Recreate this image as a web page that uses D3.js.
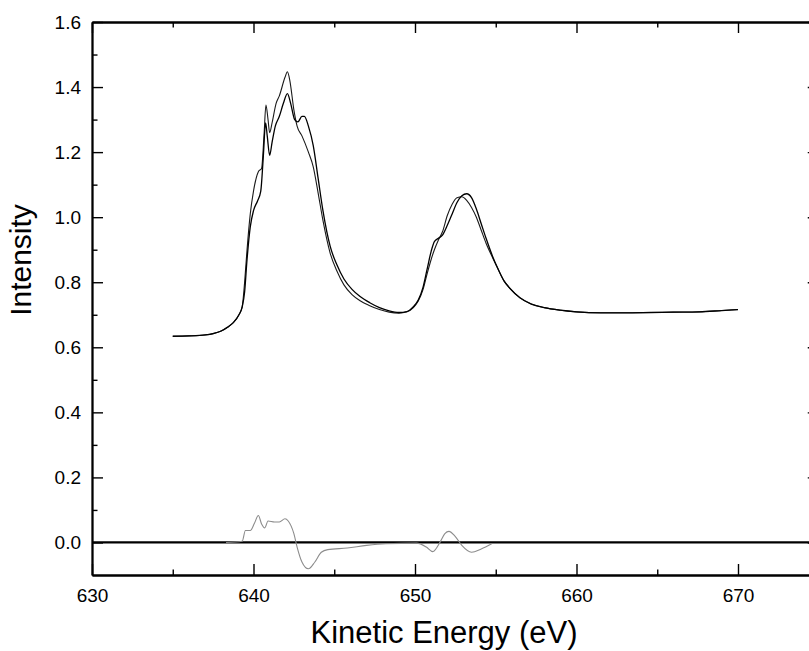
<!DOCTYPE html>
<html>
<head>
<meta charset="utf-8">
<script src="https://cdn.jsdelivr.net/npm/d3@7"></script>
<style>
  html, body { margin: 0; padding: 0; background: #fff; }
  svg { display: block; }
</style>
</head>
<body>
<div id="chart"></div>
<script>
// ── Data ──────────────────────────────────────────────────────
// Spectrum A: the one with the taller main peak (~1.45)
const energyA = [635, 636, 637, 637.5, 638, 638.4, 638.75, 639.1, 639.3, 639.45,
  639.6, 639.8, 640.0, 640.3, 640.5, 640.65, 640.77, 640.9, 641.0, 641.15,
  641.4, 641.6, 641.95, 642.1, 642.25, 642.5, 642.7, 643.0, 643.4, 643.7,
  644.0, 644.3, 644.75, 645.15, 645.6, 646.1, 646.6, 647.2, 647.8, 648.4,
  649.0, 649.5, 649.9, 650.2, 650.5, 650.75, 651.0, 651.2, 651.45, 651.7,
  652.0, 652.3, 652.6, 652.9, 653.2, 653.5, 653.8, 654.1, 654.4, 654.8,
  655.1, 655.5, 655.9, 656.5, 657.2, 658, 659, 660, 661.5, 663,
  664.6, 666, 667.6, 669, 670];
const intensityA = [0.634, 0.635, 0.638, 0.642, 0.650, 0.662, 0.676, 0.700, 0.724, 0.80,
  0.90, 1.01, 1.08, 1.14, 1.15, 1.25, 1.345, 1.30, 1.26, 1.29,
  1.35, 1.373, 1.43, 1.447, 1.42, 1.33, 1.28, 1.25, 1.20, 1.155,
  1.075, 0.99, 0.889, 0.836, 0.792, 0.762, 0.743, 0.728, 0.716, 0.708,
  0.705, 0.709, 0.722, 0.742, 0.778, 0.826, 0.87, 0.90, 0.93, 0.955,
  1.005, 1.04, 1.06, 1.063, 1.052, 1.03, 1.0, 0.96, 0.92, 0.876,
  0.845, 0.805, 0.78, 0.752, 0.733, 0.722, 0.714, 0.709, 0.706, 0.706,
  0.707, 0.708, 0.709, 0.713, 0.716];

// Spectrum B: lower main peak (~1.38) with the shoulder near 643 eV
const energyB = [635, 636, 637, 637.5, 638, 638.4, 638.75, 639.1, 639.3, 639.45,
  639.6, 639.8, 640.0, 640.25, 640.45, 640.6, 640.75, 640.85, 641.0, 641.15,
  641.35, 641.6, 641.85, 642.1, 642.3, 642.55, 642.75, 643.0, 643.15, 643.4,
  643.7, 644.0, 644.3, 644.75, 645.15, 645.6, 646.1, 646.6, 647.2, 647.8,
  648.4, 649.0, 649.5, 649.9, 650.2, 650.5, 650.75, 651.0, 651.2, 651.45,
  651.7, 652.0, 652.3, 652.6, 652.9, 653.2, 653.5, 653.8, 654.1, 654.4,
  654.8, 655.1, 655.5, 655.9, 656.5, 657.2, 658, 659, 660, 661.5,
  663, 664.6, 666, 667.6, 669, 670];
const intensityB = [0.634, 0.635, 0.638, 0.642, 0.650, 0.662, 0.676, 0.700, 0.724, 0.77,
  0.87, 0.97, 1.02, 1.05, 1.08, 1.18, 1.29, 1.25, 1.19, 1.23,
  1.28, 1.31, 1.35, 1.38, 1.35, 1.30, 1.293, 1.31, 1.31, 1.28,
  1.22, 1.12, 1.02, 0.91, 0.855, 0.81, 0.778, 0.756, 0.737, 0.722,
  0.712, 0.707, 0.710, 0.725, 0.745, 0.785, 0.84, 0.895, 0.925, 0.935,
  0.945, 0.975, 1.01, 1.045, 1.066, 1.072, 1.06, 1.025, 0.98, 0.935,
  0.88, 0.845, 0.805, 0.78, 0.752, 0.733, 0.722, 0.714, 0.709, 0.706,
  0.706, 0.707, 0.708, 0.709, 0.713, 0.716];

// Difference curve (grey)
const energyDiff = [638.3, 639.3, 639.5, 639.8, 640.05, 640.3, 640.5, 640.7, 640.9, 641.3,
  641.6, 641.95, 642.15, 642.5, 642.7, 643.0, 643.4, 643.8, 644.2, 644.6,
  645.8, 647.0, 648.2, 650.1, 650.7, 651.1, 651.55, 651.85, 652.1, 652.5,
  652.9, 653.5, 654.1, 654.75];
const intensityDiff = [0.0, 0.004, 0.037, 0.037, 0.058, 0.083, 0.057, 0.045, 0.066, 0.063,
  0.063, 0.073, 0.066, 0.027, -0.014, -0.06, -0.081, -0.06, -0.03, -0.022,
  -0.017, -0.009, -0.004, -0.002, -0.014, -0.028, 0.001, 0.027, 0.034, 0.018,
  -0.009, -0.03, -0.02, -0.004];

const xMajorTicks = [630, 640, 650, 660, 670];
const xMinorTicks = [635, 645, 655, 665, 675];
const yMajorTicks = [0.0, 0.2, 0.4, 0.6, 0.8, 1.0, 1.2, 1.4, 1.6];
const yMinorTicks = [0.1, 0.3, 0.5, 0.7, 0.9, 1.1, 1.3, 1.5];

// ── Layout ────────────────────────────────────────────────────
const W = 809, H = 651;
const plotLeft = 92, plotTop = 22, plotBottom = 575;
const FONT = '"Liberation Sans", Arial, Helvetica, sans-serif';

const x = d3.scaleLinear().domain([630, 675]).range([plotLeft, plotLeft + 45 * 16.15]);
const y = d3.scaleLinear().domain([-0.1, 1.6]).range([plotBottom, plotTop]);
const plotRight = x(675);

const svg = d3.select('#chart').append('svg')
  .attr('width', W).attr('height', H);

// ── Axes (ticks point inward) ─────────────────────────────────
function styleAxis(g) {
  g.select('.domain').attr('stroke', '#000').attr('stroke-width', 1.8);
  g.selectAll('.tick line').attr('stroke', '#000').attr('stroke-width', 1.4);
  g.selectAll('.tick text')
    .attr('fill', '#000')
    .attr('font-family', FONT)
    .attr('font-size', 19);
}

const fmtY = d3.format('.1f');

// bottom
svg.append('g').attr('transform', `translate(0,${plotBottom})`)
  .call(d3.axisBottom(x).tickValues(xMajorTicks).tickSizeInner(-11).tickSizeOuter(0)
    .tickPadding(14).tickFormat(d3.format('d')))
  .call(styleAxis);
svg.append('g').attr('transform', `translate(0,${plotBottom})`)
  .call(d3.axisBottom(x).tickValues(xMinorTicks).tickSizeInner(-5.5).tickSizeOuter(0).tickFormat(''))
  .call(styleAxis);

// top
svg.append('g').attr('transform', `translate(0,${plotTop})`)
  .call(d3.axisTop(x).tickValues(xMajorTicks).tickSizeInner(-11).tickSizeOuter(0).tickFormat(''))
  .call(styleAxis);
svg.append('g').attr('transform', `translate(0,${plotTop})`)
  .call(d3.axisTop(x).tickValues(xMinorTicks).tickSizeInner(-5.5).tickSizeOuter(0).tickFormat(''))
  .call(styleAxis);

// left
svg.append('g').attr('transform', `translate(${plotLeft},0)`)
  .call(d3.axisLeft(y).tickValues(yMajorTicks).tickSizeInner(-11).tickSizeOuter(0)
    .tickPadding(11).tickFormat(fmtY))
  .call(styleAxis);
svg.append('g').attr('transform', `translate(${plotLeft},0)`)
  .call(d3.axisLeft(y).tickValues(yMinorTicks).tickSizeInner(-5.5).tickSizeOuter(0).tickFormat(''))
  .call(styleAxis);

// right
svg.append('g').attr('transform', `translate(${plotRight},0)`)
  .call(d3.axisRight(y).tickValues(yMajorTicks).tickSizeInner(-11).tickSizeOuter(0).tickFormat(''))
  .call(styleAxis);

// ── Zero line ─────────────────────────────────────────────────
svg.append('line')
  .attr('x1', x(630)).attr('x2', plotRight)
  .attr('y1', y(0)).attr('y2', y(0))
  .attr('stroke', '#000').attr('stroke-width', 2.2);

// ── Curves ────────────────────────────────────────────────────
const line = d3.line()
  .x(d => x(d[0]))
  .y(d => y(d[1]))
  .curve(d3.curveMonotoneX);

const series = [
  { e: energyDiff, v: intensityDiff, color: '#8c8c8c', width: 1.1 },
  { e: energyA,    v: intensityA,    color: '#1a1a1a', width: 1.1 },
  { e: energyB,    v: intensityB,    color: '#000',    width: 1.3 },
];

series.forEach(s => {
  svg.append('path')
    .datum(d3.zip(s.e, s.v))
    .attr('fill', 'none')
    .attr('stroke', s.color)
    .attr('stroke-width', s.width)
    .attr('stroke-linejoin', 'round')
    .attr('d', line);
});

// ── Axis titles ───────────────────────────────────────────────
svg.append('text')
  .attr('x', 444)
  .attr('y', 643)
  .attr('text-anchor', 'middle')
  .attr('font-family', FONT)
  .attr('font-size', 31)
  .attr('fill', '#000')
  .text('Kinetic Energy (eV)');

svg.append('text')
  .attr('transform', 'translate(31,260) rotate(-90)')
  .attr('text-anchor', 'middle')
  .attr('font-family', FONT)
  .attr('font-size', 30)
  .attr('fill', '#000')
  .text('Intensity');
</script>
</body>
</html>
